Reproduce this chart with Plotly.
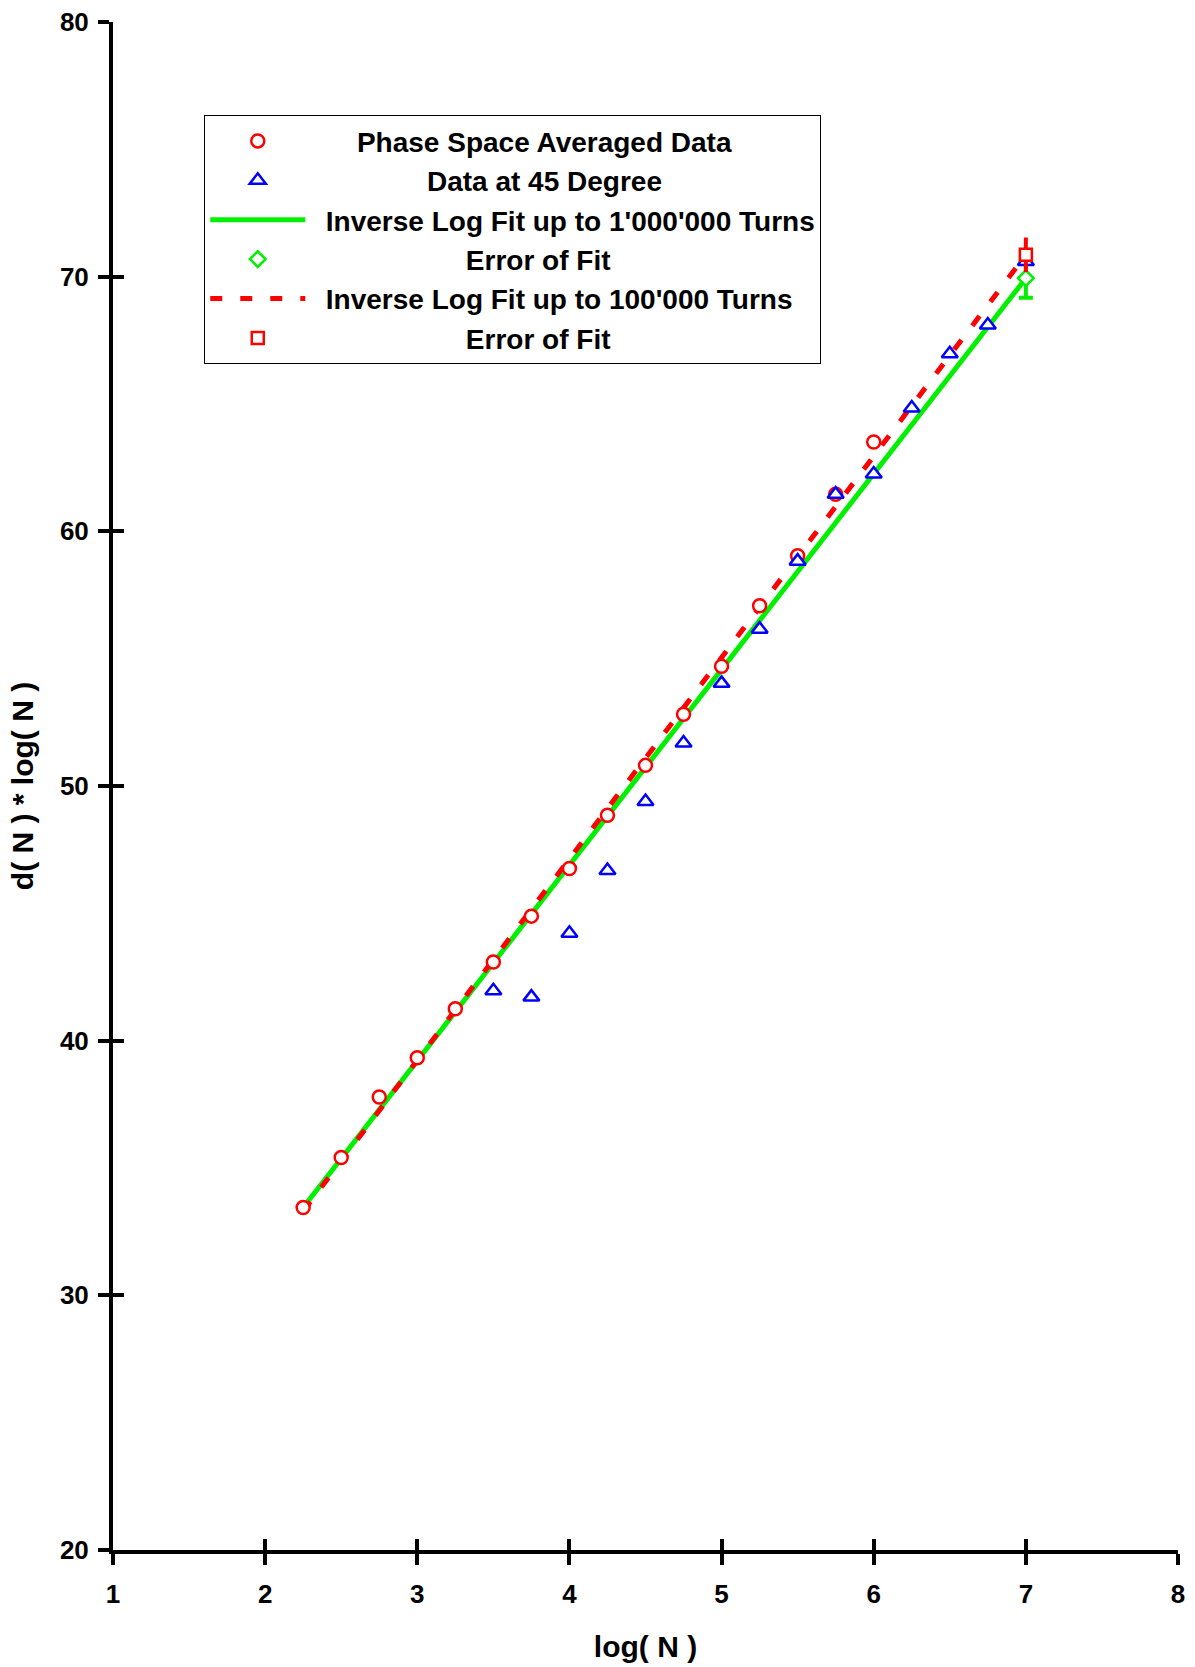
import plotly.graph_objects as go

# ---------------- data ----------------
phase_x = [2.25, 2.5, 2.75, 3.0, 3.25, 3.5, 3.75, 4.0, 4.25, 4.5, 4.75, 5.0, 5.25, 5.5, 5.75, 6.0]
phase_y = [33.45, 35.41, 37.79, 39.33, 41.25, 43.09, 44.89, 46.76, 48.85, 50.81, 52.82, 54.70, 57.08, 59.04, 61.46, 63.51]

deg45_x = [3.5, 3.75, 4.0, 4.25, 4.5, 4.75, 5.0, 5.25, 5.5, 5.75, 6.0, 6.25, 6.5, 6.75, 7.0]
deg45_y = [41.96, 41.71, 44.22, 46.68, 49.39, 51.69, 54.03, 56.16, 58.83, 61.46, 62.25, 64.84, 66.97, 68.10, 70.60]

fit1m_x = [2.25, 7.0]
fit1m_y = [33.45, 69.94]

fit100k_x = [2.25, 7.0]
fit100k_y = [33.30, 70.86]

err1m_x = [7.0]
err1m_y = [69.94]
err1m_e = [0.77]

err100k_x = [7.0]
err100k_y = [70.86]
err100k_e = [0.60]

x_ticks = [1, 2, 3, 4, 5, 6, 7, 8]
y_ticks = [20, 30, 40, 50, 60, 70, 80]

labels = {
    "phase": "Phase Space Averaged Data",
    "deg45": "Data at 45 Degree",
    "fit1m": "Inverse Log Fit up to 1'000'000 Turns",
    "err1m": "Error of Fit",
    "fit100k": "Inverse Log Fit up to 100'000 Turns",
    "err100k": "Error of Fit",
}
pad = {"phase": 6, "deg45": 15, "fit1m": 2, "err1m": 20, "fit100k": 2, "err100k": 20}

def lab(k):
    return "\u00a0" * pad[k] + labels[k]

GREEN = "#00f000"
RED = "#ff0000"
BLUE = "#0000ff"
FONT = "Liberation Sans, Arial, sans-serif"

fig = go.Figure()

fig.add_trace(go.Scatter(x=fit1m_x, y=fit1m_y, mode="lines", name=lab("fit1m"),
                         line=dict(color=GREEN, width=5), legendrank=3))
fig.add_trace(go.Scatter(x=fit100k_x, y=fit100k_y, mode="lines", name=lab("fit100k"),
                         line=dict(color=RED, width=5, dash="12px,18px"), legendrank=5))
fig.add_trace(go.Scatter(x=err1m_x, y=err1m_y, mode="markers", name=lab("err1m"),
                         marker=dict(symbol="diamond", size=12, color="white",
                                     line=dict(color=GREEN, width=2.5)),
                         error_y=dict(type="data", array=err1m_e, color=GREEN, thickness=4, width=7),
                         legendrank=4))
fig.add_trace(go.Scatter(x=phase_x, y=phase_y, mode="markers", name=lab("phase"),
                         marker=dict(symbol="circle", size=13, color="white",
                                     line=dict(color=RED, width=2.5)), legendrank=1))
fig.add_trace(go.Scatter(x=deg45_x, y=deg45_y, mode="markers", name=lab("deg45"),
                         marker=dict(symbol="triangle-up", size=14, color="white",
                                     line=dict(color=BLUE, width=2.5)), legendrank=2))
fig.add_trace(go.Scatter(x=err100k_x, y=err100k_y, mode="markers", name=lab("err100k"),
                         marker=dict(symbol="square", size=12, color="white",
                                     line=dict(color=RED, width=2.5)),
                         error_y=dict(type="data", array=err100k_e, color=RED, thickness=4, width=2),
                         legendrank=6))
# empty trace on the overlay axes (inside half of the crossing ticks)
fig.add_trace(go.Scatter(x=[], y=[], xaxis="x2", yaxis="y2", showlegend=False, hoverinfo="skip"))

axis_common = dict(showgrid=False, zeroline=False, showline=True, linecolor="black", linewidth=4,
                   ticks="outside", ticklen=11, tickwidth=4, tickcolor="black", automargin=False,
                   tickfont=dict(family=FONT, size=26, color="black", weight="bold"),
                   fixedrange=True)

fig.update_layout(
    width=1195, height=1667,
    margin=dict(l=113, r=17, t=22, b=117),
    paper_bgcolor="white", plot_bgcolor="white",
    font=dict(family=FONT, size=26, color="black", weight="bold"),
    xaxis=dict(range=[1, 8], tickvals=x_ticks, ticklabelstandoff=7,
               title=dict(text="log( N )", font=dict(family=FONT, size=30, weight="bold"), standoff=29),
               **axis_common),
    yaxis=dict(range=[20, 80], tickvals=y_ticks, ticklabelstandoff=4,
               title=dict(text="d( N ) * log( N )", font=dict(family=FONT, size=30, weight="bold"), standoff=18),
               **axis_common),
    xaxis2=dict(range=[1, 8], tickvals=x_ticks, overlaying="x", anchor="y2", side="bottom",
                showgrid=False, zeroline=False, showline=False, showticklabels=False, automargin=False,
                ticks="inside", ticklen=11, tickwidth=4, tickcolor="black", fixedrange=True),
    yaxis2=dict(range=[20, 80], tickvals=y_ticks, overlaying="y", anchor="x2", side="left",
                showgrid=False, zeroline=False, showline=False, showticklabels=False, automargin=False,
                ticks="inside", ticklen=11, tickwidth=4, tickcolor="black", fixedrange=True),
    legend=dict(x=0.0857, y=0.939, xanchor="left", yanchor="top",
                bgcolor="white", bordercolor="black", borderwidth=1,
                font=dict(family=FONT, size=28, color="black", weight="bold"),
                itemwidth=95, traceorder="normal"),
    showlegend=True,
)

fig.write_html("out.html", config={"displayModeBar": False},
               post_script="document.body.style.margin='0px';")
